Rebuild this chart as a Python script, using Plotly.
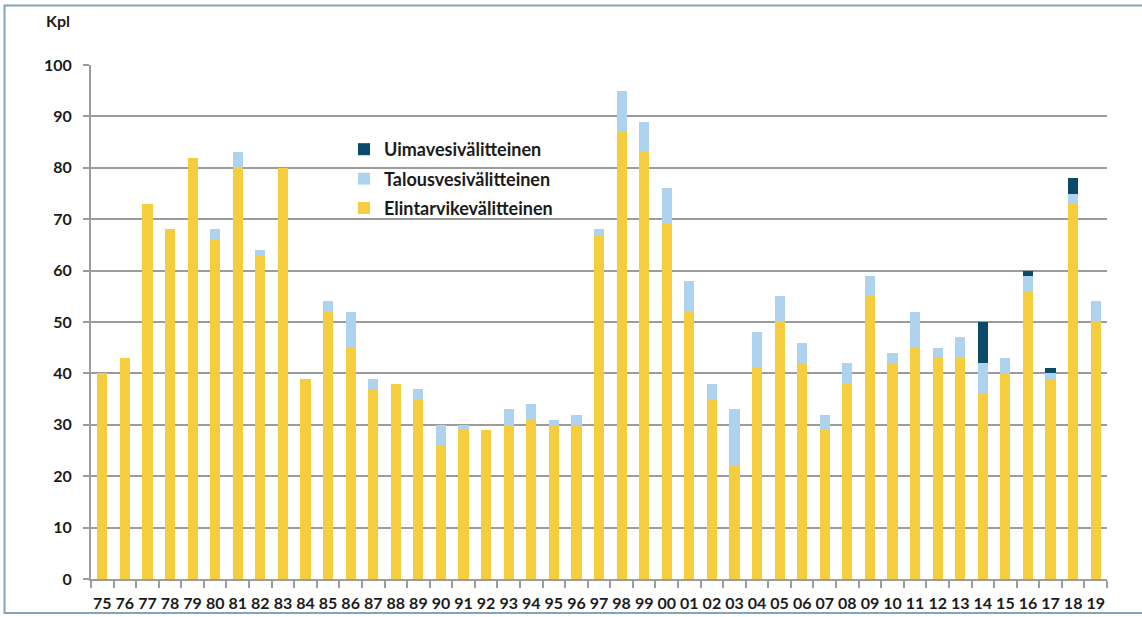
import plotly.graph_objects as go

years = ["75", "76", "77", "78", "79", "80", "81", "82", "83", "84", "85", "86", "87", "88", "89",
         "90", "91", "92", "93", "94", "95", "96", "97", "98", "99", "00", "01", "02", "03", "04",
         "05", "06", "07", "08", "09", "10", "11", "12", "13", "14", "15", "16", "17", "18", "19"]

elintarvike = [40, 43, 73, 68, 82, 66, 80, 63, 80, 39, 52, 45, 37, 38, 35,
               26, 29, 29, 30, 31, 30, 30, 67, 87, 83, 69, 52, 35, 22, 41,
               50, 42, 29, 38, 55, 42, 45, 43, 43, 36, 40, 56, 39, 73, 50]
talousvesi = [0, 0, 0, 0, 0, 2, 3, 1, 0, 0, 2, 7, 2, 0, 2,
              4, 1, 0, 3, 3, 1, 2, 1, 8, 6, 7, 6, 3, 11, 7,
              5, 4, 3, 4, 4, 2, 7, 2, 4, 6, 3, 3, 1, 2, 4]
uimavesi = [0, 0, 0, 0, 0, 0, 0, 0, 0, 0, 0, 0, 0, 0, 0,
            0, 0, 0, 0, 0, 0, 0, 0, 0, 0, 0, 0, 0, 0, 0,
            0, 0, 0, 0, 0, 0, 0, 0, 0, 8, 0, 1, 1, 3, 0]

y_ticks = [0, 10, 20, 30, 40, 50, 60, 70, 80, 90, 100]

FONT = "Lato"
TEXT = "#1b1b1b"
GRID = "#9c9c9c"

fig = go.Figure()
fig.add_trace(go.Bar(x=years, y=elintarvike, name="Elintarvikevälitteinen",
                     marker=dict(color="#F6CD3E", line=dict(width=0)),
                     legendgroup="e", legendrank=3))
fig.add_trace(go.Bar(x=years, y=talousvesi, name="Talousvesivälitteinen",
                     marker=dict(color="#AED3EE", line=dict(width=0)),
                     legendgroup="t", legendrank=2))
fig.add_trace(go.Bar(x=years, y=uimavesi, name="Uimavesivälitteinen",
                     marker=dict(color="#0B4A68", line=dict(width=0)),
                     legendgroup="u", legendrank=1))

L, R, T, B = 91, 35, 65, 38
W, H = 1142, 617
pw, ph = W - L - R, H - T - B

def px_x(p):
    return (p - L) / pw

def px_y(p):
    return (H - B - p) / ph

fig.update_layout(
    width=W, height=H,
    margin=dict(l=L, r=R, t=T, b=B, pad=0, autoexpand=False),
    barmode="stack",
    bargap=0.55,
    paper_bgcolor="white",
    plot_bgcolor="white",
    font=dict(family=FONT, size=15, color=TEXT),
    showlegend=True,
    legend=dict(
        x=px_x(344), y=px_y(131), xanchor="left", yanchor="top",
        traceorder="grouped", tracegroupgap=3,
        bgcolor="rgba(0,0,0,0)",
        font=dict(family=FONT, size=18, color=TEXT, weight="bold"),
        itemwidth=30,
    ),
    xaxis=dict(
        type="category",
        automargin=False,
        tickangle=0,
        showgrid=False,
        showline=True, linecolor=GRID, linewidth=2,
        ticks="outside", tickson="boundaries", ticklen=7, tickcolor=GRID, tickwidth=2,
        tickfont=dict(family=FONT, size=16, color=TEXT, weight="bold"),
        ticklabelstandoff=9,
    ),
    yaxis=dict(
        range=[0, 100],
        automargin=False,
        tickvals=y_ticks,
        showgrid=True, gridcolor=GRID, gridwidth=2,
        showline=True, linecolor=GRID, linewidth=2,
        ticks="outside", ticklen=6, tickcolor=GRID, tickwidth=2,
        tickfont=dict(family=FONT, size=16, color=TEXT, weight="bold"),
        ticklabelstandoff=8,
        zeroline=False,
    ),
    annotations=[dict(
        text="Kpl", xref="paper", yref="paper",
        x=px_x(58), y=px_y(20), xanchor="center", yanchor="middle",
        showarrow=False, font=dict(family=FONT, size=16, color=TEXT, weight="bold"),
    )],
    shapes=[dict(
        type="rect", xref="paper", yref="paper",
        x0=px_x(4.5), x1=px_x(1160), y0=px_y(613), y1=px_y(5.5),
        line=dict(color="#86A3B8", width=2), fillcolor="rgba(0,0,0,0)", layer="below",
    )],
)

fig.write_html("out.html")
